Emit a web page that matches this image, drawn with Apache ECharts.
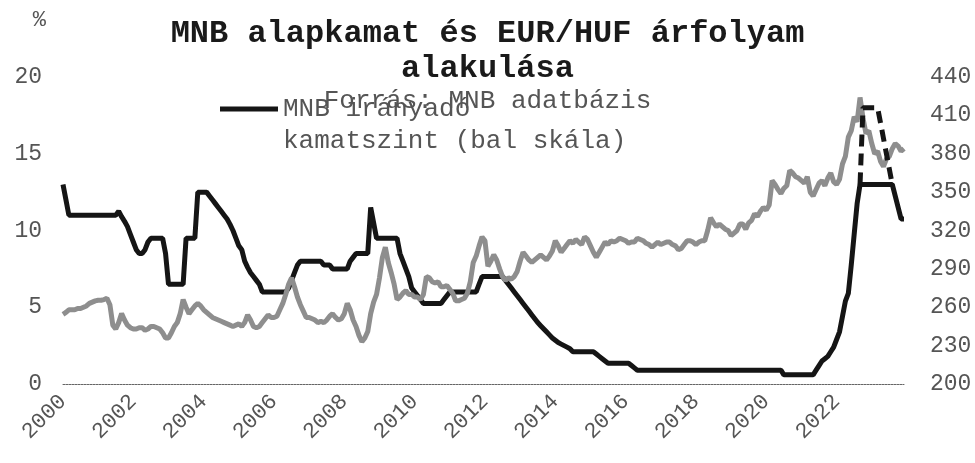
<!DOCTYPE html>
<html>
<head>
<meta charset="utf-8">
<script src="https://cdn.jsdelivr.net/npm/echarts@6/dist/echarts.min.js"></script>
<style>
    html, body { margin: 0; padding: 0; background: #fff; }
    #chart { width: 975px; height: 463px; }
</style>
</head>
<body>
<div id="chart"></div>
<script>
    // havi adatok 2000-01 .. 2023-12
    const years = [];
    for (let y = 2000; y <= 2023; y++) years.push(y);
    const months = [];
    years.forEach(y => {
        for (let m = 1; m <= 12; m++) months.push(y + '-' + (m < 10 ? '0' + m : m));
    });

    // MNB irányadó kamat (%), bal skála
    const rate = [
        13, 12, 11, 11, 11, 11, 11, 11, 11, 11, 11, 11,
        11, 11, 11, 11, 11, 11, 11, 11.25, 10.9, 10.6, 10.25, 9.75,
        9.25, 8.75, 8.5, 8.5, 8.75, 9.25, 9.5, 9.5, 9.5, 9.5, 9.5, 8.5,
        6.5, 6.5, 6.5, 6.5, 6.5, 6.5, 9.5, 9.5, 9.5, 9.5, 12.5, 12.5,
        12.5, 12.5, 12.25, 12, 11.75, 11.5, 11.25, 11, 10.75, 10.4, 10, 9.5,
        9, 8.75, 8, 7.6, 7.25, 7, 6.75, 6.5, 6, 6, 6, 6,
        6, 6, 6, 6, 6, 6.25, 6.75, 7.25, 7.75, 8, 8, 8,
        8, 8, 8, 8, 8, 7.75, 7.75, 7.75, 7.5, 7.5, 7.5, 7.5,
        7.5, 7.5, 8, 8.25, 8.5, 8.5, 8.5, 8.5, 8.5, 11.5, 10.5, 9.5,
        9.5, 9.5, 9.5, 9.5, 9.5, 9.5, 9.5, 8.5, 8, 7.5, 7, 6.25,
        6, 5.75, 5.5, 5.25, 5.25, 5.25, 5.25, 5.25, 5.25, 5.25, 5.5, 5.75,
        6, 6, 6, 6, 6, 6, 6, 6, 6, 6, 6.5, 7,
        7, 7, 7, 7, 7, 7, 7, 6.75, 6.5, 6.25, 6, 5.75,
        5.5, 5.25, 5, 4.75, 4.5, 4.25, 4, 3.8, 3.6, 3.4, 3.2, 3,
        2.85, 2.7, 2.6, 2.5, 2.4, 2.3, 2.1, 2.1, 2.1, 2.1, 2.1, 2.1,
        2.1, 2.1, 1.95, 1.8, 1.65, 1.5, 1.35, 1.35, 1.35, 1.35, 1.35, 1.35,
        1.35, 1.35, 1.2, 1.05, 0.9, 0.9, 0.9, 0.9, 0.9, 0.9, 0.9, 0.9,
        0.9, 0.9, 0.9, 0.9, 0.9, 0.9, 0.9, 0.9, 0.9, 0.9, 0.9, 0.9,
        0.9, 0.9, 0.9, 0.9, 0.9, 0.9, 0.9, 0.9, 0.9, 0.9, 0.9, 0.9,
        0.9, 0.9, 0.9, 0.9, 0.9, 0.9, 0.9, 0.9, 0.9, 0.9, 0.9, 0.9,
        0.9, 0.9, 0.9, 0.9, 0.9, 0.9, 0.6, 0.6, 0.6, 0.6, 0.6, 0.6,
        0.6, 0.6, 0.6, 0.6, 0.6, 0.9, 1.2, 1.5, 1.65, 1.8, 2.1, 2.4,
        2.9, 3.4, 4.4, 5.4, 5.9, 7.75, 9.75, 11.75, 13, 13, 13, 13,
        13, 13, 13, 13, 13, 13, 13, 13, 12.25, 11.5, 10.75, 10.75
    ];

    // effektív kamat (szaggatott), 2022-09 .. 2023-08
    const effRate = [
        ['2022-09', 13], ['2022-10', 18], ['2022-11', 18], ['2022-12', 18],
        ['2023-01', 18], ['2023-02', 18], ['2023-03', 18], ['2023-04', 17],
        ['2023-05', 16], ['2023-06', 15], ['2023-07', 14], ['2023-08', 13]
    ];

    // EUR/HUF árfolyam, jobb skála
    const eurHuf = [
        254.5, 256, 258, 258, 258, 259, 259, 260, 261, 263, 264, 265,
        265.5, 265.5, 266, 267, 262, 246, 243, 248, 255, 250, 246, 244,
        243, 243, 244, 244, 242, 243, 245, 245, 244, 243, 240, 236,
        236, 240, 245, 248, 255, 266, 260, 255, 258, 261, 263, 261,
        258, 256, 254, 252, 251, 250, 249, 248, 247, 246, 245, 246,
        247, 245, 248, 254, 250, 245, 244, 245, 248, 251, 254, 252,
        252, 253, 258, 263, 270, 278, 283, 276, 268, 262, 257, 252,
        252, 251, 250, 248, 249, 248, 250, 253, 255, 252, 250, 251,
        255, 263, 258, 250, 245, 238, 233, 236, 241, 255, 264, 270,
        283, 299, 307, 295, 287, 278, 266, 268, 271, 273, 270, 270,
        268, 268, 266, 270, 284, 283, 280, 279, 280, 276, 276, 277,
        274, 271, 265, 265, 266, 267, 271, 280, 295, 300, 308, 315,
        312, 292, 296, 301, 297, 290, 284, 281, 283, 282, 284, 288,
        296, 303, 300, 297, 295, 297, 299, 301, 299, 297, 300, 304,
        312, 308, 303, 306, 309, 312, 310, 313, 311, 309, 315, 313,
        308, 303, 299, 303, 307, 311, 309, 312, 311, 312, 314, 313,
        312, 310, 311, 311, 314, 313, 312, 310, 309, 307, 309, 311,
        309, 310, 311, 311, 309, 308, 305, 306, 309, 312, 312, 311,
        309, 311, 312, 312, 320, 330, 326, 323, 325, 323, 321, 320,
        316, 318, 320, 325, 325, 321, 326, 328, 333, 331, 335, 338,
        336, 340, 359, 356, 352, 349, 353, 355, 367, 365, 362, 361,
        359, 357, 362, 350, 347, 352, 357, 359, 355, 361, 365, 358,
        356, 360, 372, 378, 393, 398, 409, 405, 424, 408, 396, 398,
        388, 380, 382, 374, 370, 376, 378, 384, 388, 386, 382, 384
    ];

    const leftTicks = [0, 5, 10, 15, 20];
    const rightTicks = [200, 230, 260, 290, 320, 350, 380, 410, 440];
    const legendName = 'MNB irányadó kamatszint (bal skála)';

    const mono = 'Liberation Mono';
    const chart = echarts.init(document.getElementById('chart'));
    chart.setOption({
        animation: false,
        backgroundColor: '#fff',
        title: [
            {
                text: 'MNB alapkamat és EUR/HUF árfolyam\nalakulása',
                left: 'center',
                top: 16,
                padding: 0,
                textStyle: {
                    fontFamily: mono,
                    fontSize: 32,
                    fontWeight: 'bold',
                    lineHeight: 35,
                    color: '#1a1a1a'
                }
            },
            {
                text: 'Forrás: MNB adatbázis',
                left: 'center',
                top: 88,
                padding: 0,
                textStyle: {
                    fontFamily: mono,
                    fontSize: 26,
                    fontWeight: 'normal',
                    color: '#555'
                }
            }
        ],
        legend: {
            data: [legendName],
            left: 220,
            top: 61,
            padding: 0,
            icon: 'rect',
            itemWidth: 58,
            itemHeight: 5,
            itemGap: 0,
            // üres első sor: így az első szövegsor a jelölő magasságába kerül
            formatter: () => ' \nMNB irányadó\nkamatszint (bal skála)',
            textStyle: {
                fontFamily: mono,
                fontSize: 26,
                lineHeight: 32,
                color: '#555'
            }
        },
        grid: {
            left: 63,
            right: 71,
            top: 77,
            bottom: 79
        },
        xAxis: {
            type: 'category',
            data: months,
            boundaryGap: false,
            axisLine: {
                lineStyle: { color: '#666', width: 1, type: [2, 1] }
            },
            axisTick: { show: false },
            axisLabel: {
                interval: (idx) => idx % 24 === 0,
                formatter: (v) => v.slice(0, 4),
                rotate: 45,
                margin: 14,
                fontFamily: mono,
                fontSize: 22,
                color: '#555'
            },
            splitLine: { show: false }
        },
        yAxis: [
            {
                type: 'value',
                min: leftTicks[0],
                max: leftTicks[leftTicks.length - 1],
                interval: 5,
                name: '%',
                nameLocation: 'end',
                nameGap: 46,
                nameTextStyle: {
                    fontFamily: mono,
                    fontSize: 22,
                    color: '#555',
                    align: 'right',
                    padding: [0, 17, 0, 0]
                },
                axisLine: { show: false },
                axisTick: { show: false },
                splitLine: { show: false },
                axisLabel: {
                    margin: 21,
                    fontFamily: mono,
                    fontSize: 23,
                    color: '#555'
                }
            },
            {
                type: 'value',
                min: rightTicks[0],
                max: rightTicks[rightTicks.length - 1],
                interval: 30,
                position: 'right',
                axisLine: { show: false },
                axisTick: { show: false },
                splitLine: { show: false },
                axisLabel: {
                    margin: 26,
                    fontFamily: mono,
                    fontSize: 23,
                    color: '#555'
                }
            }
        ],
        series: [
            {
                name: legendName,
                type: 'line',
                yAxisIndex: 0,
                data: rate,
                showSymbol: false,
                symbol: 'none',
                lineStyle: { color: '#151515', width: 5 },
                itemStyle: { color: '#151515' },
                z: 2
            },
            {
                name: 'EUR/HUF',
                type: 'line',
                yAxisIndex: 1,
                data: eurHuf,
                showSymbol: false,
                symbol: 'none',
                lineStyle: { color: '#8e8e8e', width: 5 },
                itemStyle: { color: '#8e8e8e' },
                z: 3
            },
            {
                name: 'effektív kamat',
                type: 'line',
                yAxisIndex: 0,
                data: effRate,
                showSymbol: false,
                symbol: 'none',
                lineStyle: { color: '#151515', width: 5, type: [12, 7] },
                itemStyle: { color: '#151515' },
                z: 4
            }
        ]
    });
</script>
</body>
</html>
